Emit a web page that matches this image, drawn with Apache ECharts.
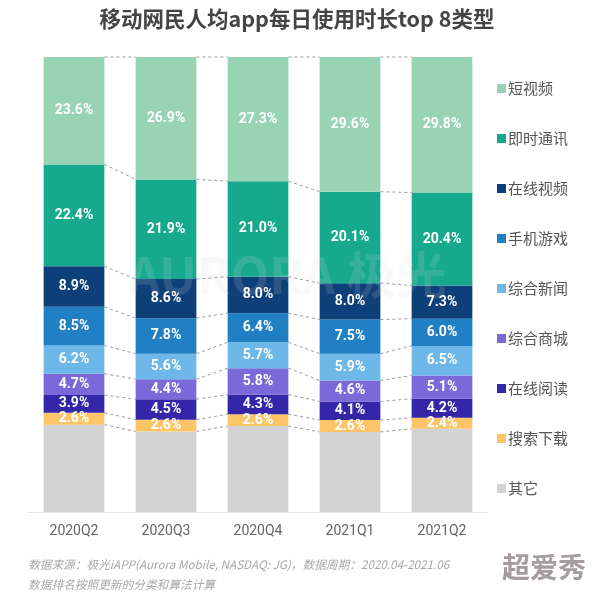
<!DOCTYPE html>
<html><head><meta charset="utf-8">
<script src="https://cdn.jsdelivr.net/npm/echarts@6/dist/echarts.min.js"></script>
<style>html,body{margin:0;padding:0;background:#fff}#c{width:594px;height:595px}</style>
</head><body><div id="c"></div>
<script>
const categories = ['2020Q2','2020Q3','2020Q4','2021Q1','2021Q2'];
// top-to-bottom legend order
const seriesNames = ['短视频','即时通讯','在线视频','手机游戏','综合新闻','综合商城','在线阅读','搜索下载','其它'];
const shortVideo = [23.6, 26.9, 27.3, 29.6, 29.8];
const instantMsg = [22.4, 21.9, 21.0, 20.1, 20.4];
const onlineVideo = [8.9, 8.6, 8.0, 8.0, 7.3];
const mobileGame = [8.5, 7.8, 6.4, 7.5, 6.0];
const generalNews = [6.2, 5.6, 5.7, 5.9, 6.5];
const generalMall = [4.7, 4.4, 5.8, 4.6, 5.1];
const onlineReading = [3.9, 4.5, 4.3, 4.1, 4.2];
const searchDownload = [2.6, 2.6, 2.6, 2.6, 2.4];
const others = [19.2, 17.7, 18.9, 17.6, 18.3];
const colors = ['#98d4b4','#17a98e','#0d3f78','#2180c4','#6db8e8','#7b68d9','#3426a8','#fdc567','#d3d3d3'];

const valuesTopDown = [shortVideo, instantMsg, onlineVideo, mobileGame, generalNews, generalMall, onlineReading, searchDownload, others];
// bottom-up for stacking
const order = [8,7,6,5,4,3,2,1,0];

// cumulative boundaries per category (bottom-up)
const cum = categories.map((c, i) => {
  let s = 0; const arr = [];
  order.forEach(k => { s += valuesTopDown[k][i]; arr.push(s); });
  return arr;
});

const barRatio = 0.66;
const series = order.map(k => ({
  name: seriesNames[k],
  type: 'bar',
  stack: 'total',
  barWidth: (barRatio*100) + '%',
  data: valuesTopDown[k],
  itemStyle: { color: colors[k] },
  label: k === 8 ? { show: false } : {
    show: true, position: 'inside', color: '#fff', fontSize: 14, fontWeight: 'bold',
    fontFamily: 'Roboto, "Noto Sans CJK SC", sans-serif',
    formatter: p => p.value.toFixed(1) + '%'
  },
  z: 3
}));

// dashed connector lines between adjacent bars
const connData = [];
for (let i = 0; i < categories.length - 1; i++) connData.push([i]);
series.push({
  type: 'custom',
  name: 'conn',
  silent: true,
  z: 1,
  data: connData,
  renderItem: function (params, api) {
    const i = api.value(0);
    const half = api.size([1, 0])[0] * barRatio / 2;
    const children = [];
    cum[i].forEach((v, j) => {
      const p1 = api.coord([i, v]);
      const p2 = api.coord([i + 1, cum[i + 1][j]]);
      children.push({
        type: 'line',
        shape: { x1: p1[0] + half, y1: p1[1], x2: p2[0] - half, y2: p2[1] },
        style: { stroke: '#9a9a9a', lineWidth: 1, lineDash: [3, 3] }
      });
    });
    return { type: 'group', children };
  }
});

const chart = echarts.init(document.getElementById('c'));
chart.setOption({
  backgroundColor: '#fff',
  animation: false,
  title: {
    text: '移动网民人均app每日使用时长top 8类型',
    left: 'center', top: 3,
    textStyle: { fontSize: 21.5, fontWeight: 'bold', color: '#444', fontFamily: '"Noto Sans CJK SC", sans-serif' }
  },
  legend: {
    data: seriesNames,
    orient: 'vertical',
    left: 492, top: 76,
    itemWidth: 9, itemHeight: 9, itemGap: 35,
    icon: 'rect',
    textStyle: { fontSize: 15, color: '#555', fontFamily: '"Noto Sans CJK SC", sans-serif', padding: [0,0,0,-3] }
  },
  grid: { left: 28, right: 106, top: 57, bottom: 83 },
  xAxis: {
    type: 'category', data: categories,
    axisLine: { lineStyle: { color: '#e6e6e6' } },
    axisTick: { show: false },
    axisLabel: { color: '#666', fontSize: 14, margin: 12, fontFamily: 'Roboto, sans-serif' }
  },
  yAxis: { type: 'value', min: 0, max: 100, show: false, splitLine: { show: false } },
  series: series,
  graphic: [
    { type: 'text', left: 128, top: 250, z: 100, silent: true, style: { text: 'AURORA 极光', fill: 'rgba(215,215,215,0.16)', fontSize: 50, fontWeight: 'bold', fontFamily: '"Noto Sans CJK SC", sans-serif' } },
    { type: 'text', left: 28, top: 559, style: { text: '数据来源：极光iAPP(Aurora Mobile, NASDAQ: JG)，数据周期：2020.04-2021.06', fill: '#a8a8a8', fontSize: 11.7, fontStyle: 'italic', fontFamily: '"Noto Sans CJK SC", sans-serif' } },
    { type: 'text', left: 28, top: 579, style: { text: '数据排名按照更新的分类和算法计算', fill: '#a8a8a8', fontSize: 11.7, fontStyle: 'italic', fontFamily: '"Noto Sans CJK SC", sans-serif' } },
    { type: 'text', left: 502, top: 553, style: { text: '超爱秀', fill: '#a39d9d', fontSize: 28, fontWeight: 'bold', fontFamily: '"Noto Sans CJK SC", sans-serif' } }
  ]
});
</script></body></html>
